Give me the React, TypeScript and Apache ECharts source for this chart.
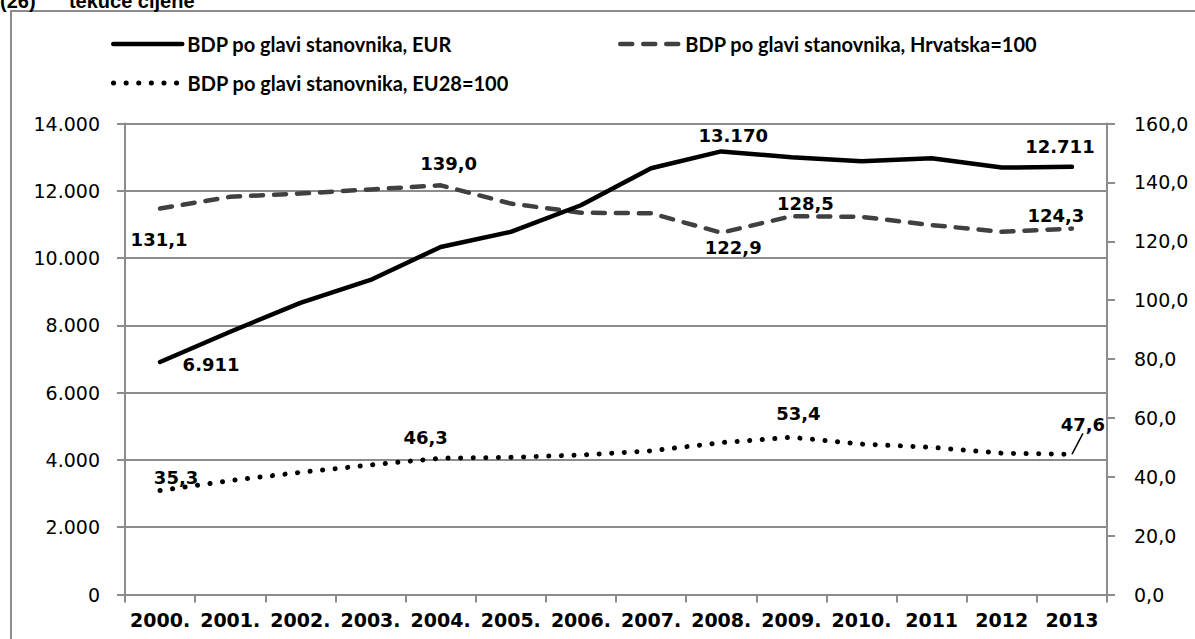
import React, { useEffect, useRef } from "react";
import * as echarts from "echarts";

const categories = ["2000.", "2001.", "2002.", "2003.", "2004.", "2005.", "2006.", "2007.", "2008.", "2009.", "2010.", "2011", "2012", "2013"];
const eurValues = [6911, 7810, 8670, 9350, 10330, 10780, 11570, 12670, 13170, 13000, 12880, 12970, 12690, 12711];
const hrValues = [131.1, 135.1, 136.2, 137.6, 139.0, 132.8, 129.7, 129.5, 122.9, 128.5, 128.3, 125.5, 123.2, 124.3];
const euValues = [35.3, 38.7, 41.5, 44.0, 46.3, 46.6, 47.4, 48.8, 51.6, 53.4, 51.1, 50.0, 48.0, 47.6];
const eurLabelled = [0, 8, 13];
const hrLabelled = [0, 4, 8, 9, 13];
const euLabelled = [0, 4, 9, 13];
const seriesNames = [
  "BDP po glavi stanovnika, EUR",
  "BDP po glavi stanovnika, Hrvatska=100",
  "BDP po glavi stanovnika, EU28=100",
];
const leftTicks = { min: 0, max: 14000, interval: 2000 };
const rightTicks = { min: 0, max: 160, interval: 20 };
const titleText = "(26)      tekuće cijene";

const eurOffsets: Record<number, [number, number]> = { 0: [51, 3], 8: [12, -16], 13: [-12, -20] };
const hrOffsets: Record<number, [number, number]> = { 0: [-1, 31], 4: [8, -22], 8: [12, 15], 9: [14, -13], 13: [-16, -13] };
const euOffsets: Record<number, [number, number]> = { 0: [16, -13], 4: [-15, -21], 9: [7, -24], 13: [11, -30] };

const fmtThousands = (v: number) => {
  const s = Math.round(v).toString();
  return s.replace(/\B(?=(\d{3})+(?!\d))/g, ".");
};
const fmtDecimal = (v: number) => v.toFixed(1).replace(".", ",");

const labelFont = {
  fontFamily: "DejaVu Sans",
  fontWeight: "bold" as const,
  fontSize: 18,
  color: "#000",
};

const solidStyle = { color: "#000", width: 4.5, type: "solid" as any, cap: "round", join: "round" };
const dashStyle = { color: "#404040", width: 4.5, type: [12, 11] as any, cap: "round", join: "round" };
const dotStyle = { color: "#000", width: 5, type: [0.1, 12.5] as any, cap: "round", join: "round" };

function makeData(values: number[], labelled: number[], fmt: (v: number) => string, withLine?: number) {
  return values.map((v, i) => {
    const show = labelled.includes(i);
    const item: any = {
      value: v,
      label: { show, position: "inside", formatter: () => fmt(v), ...labelFont },
    };
    if (withLine === i) {
      item.labelLine = { show: true, length2: 0, lineStyle: { color: "#000", width: 1.5 } };
    }
    return item;
  });
}

export default function App() {
  const ref = useRef<HTMLDivElement>(null);
  useEffect(() => {
    document.body.style.margin = "0";
    const chart = echarts.init(ref.current!, null, { renderer: "svg" });
    const legendCommon = {
      orient: "horizontal" as const,
      itemHeight: 10,
      textStyle: { fontFamily: "Lato", fontWeight: "bold" as const, fontSize: 20, color: "#000" },
      itemStyle: { opacity: 0 },
      selectedMode: false as const,
    };
    const mkLayout = (offsets: Record<number, [number, number]>) => (p: any) => {
      const o = offsets[p.dataIndex];
      if (!o) return {};
      return { dx: o[0], dy: o[1] };
    };
    chart.setOption({
      animation: false,
      backgroundColor: "#fff",
      grid: { left: 125, right: 88, top: 123.5, bottom: 44.5, containLabel: false },
      graphic: [
        {
          type: "rect",
          shape: { x: 11, y: 11, width: 1250, height: 700 },
          style: { fill: "none", stroke: "#8c8c8c", lineWidth: 2 },
          z: -1,
        },
        {
          type: "text",
          x: 0,
          y: 1,
          style: {
            text: titleText,
            font: "bold 20px 'Liberation Sans'",
            fill: "#000",
            verticalAlign: "middle",
          },
        },
      ],
      legend: [
        { ...legendCommon, data: [seriesNames[0]], left: 106, top: 29, itemWidth: 69, lineStyle: solidStyle },
        { ...legendCommon, data: [seriesNames[1]], left: 613, top: 29, itemWidth: 60, lineStyle: dashStyle },
        { ...legendCommon, data: [seriesNames[2]], left: 106, top: 68, itemWidth: 69, lineStyle: dotStyle },
      ],
      xAxis: {
        type: "category",
        data: categories,
        boundaryGap: true,
        axisLine: { lineStyle: { color: "#8c8c8c", width: 2 } },
        axisTick: { show: true, length: 8, lineStyle: { color: "#8c8c8c", width: 2 } },
        axisLabel: {
          margin: 16,
          fontFamily: "DejaVu Sans",
          fontWeight: "bold",
          fontSize: 19,
          color: "#000",
          interval: 0,
        },
      },
      yAxis: [
        {
          type: "value",
          ...leftTicks,
          axisLine: { show: true, lineStyle: { color: "#8c8c8c", width: 2 } },
          axisTick: { show: true, length: 8, lineStyle: { color: "#8c8c8c", width: 2 } },
          splitLine: { show: true, lineStyle: { color: "#8c8c8c", width: 2 } },
          axisLabel: {
            margin: 25,
            fontFamily: "DejaVu Sans",
            fontSize: 19,
            color: "#000",
            formatter: (v: number) => fmtThousands(v),
          },
        },
        {
          type: "value",
          position: "right",
          ...rightTicks,
          axisLine: { show: true, lineStyle: { color: "#8c8c8c", width: 2 } },
          axisTick: { show: true, length: 8, lineStyle: { color: "#8c8c8c", width: 2 } },
          splitLine: { show: false },
          axisLabel: {
            margin: 27,
            fontFamily: "DejaVu Sans",
            fontSize: 19,
            color: "#000",
            formatter: (v: number) => fmtDecimal(v),
          },
        },
      ],
      series: [
        {
          name: seriesNames[0],
          type: "line",
          yAxisIndex: 0,
          data: makeData(eurValues, eurLabelled, fmtThousands),
          symbol: "circle",
          symbolSize: 0.5,
          itemStyle: { color: "#000" },
          lineStyle: solidStyle,
          labelLayout: mkLayout(eurOffsets),
          z: 3,
        },
        {
          name: seriesNames[1],
          type: "line",
          yAxisIndex: 1,
          data: makeData(hrValues, hrLabelled, fmtDecimal),
          symbol: "circle",
          symbolSize: 0.5,
          itemStyle: { color: "#404040" },
          lineStyle: dashStyle,
          labelLayout: mkLayout(hrOffsets),
          z: 2,
        },
        {
          name: seriesNames[2],
          type: "line",
          yAxisIndex: 1,
          data: makeData(euValues, euLabelled, fmtDecimal, 13),
          symbol: "circle",
          symbolSize: 0.5,
          itemStyle: { color: "#000" },
          lineStyle: dotStyle,
          labelLayout: mkLayout(euOffsets),
          z: 2,
        },
      ],
    });
    return () => chart.dispose();
  }, []);
  return <div ref={ref} style={{ position: "absolute", left: 0, top: 0, width: 1195, height: 639 }} />;
}
